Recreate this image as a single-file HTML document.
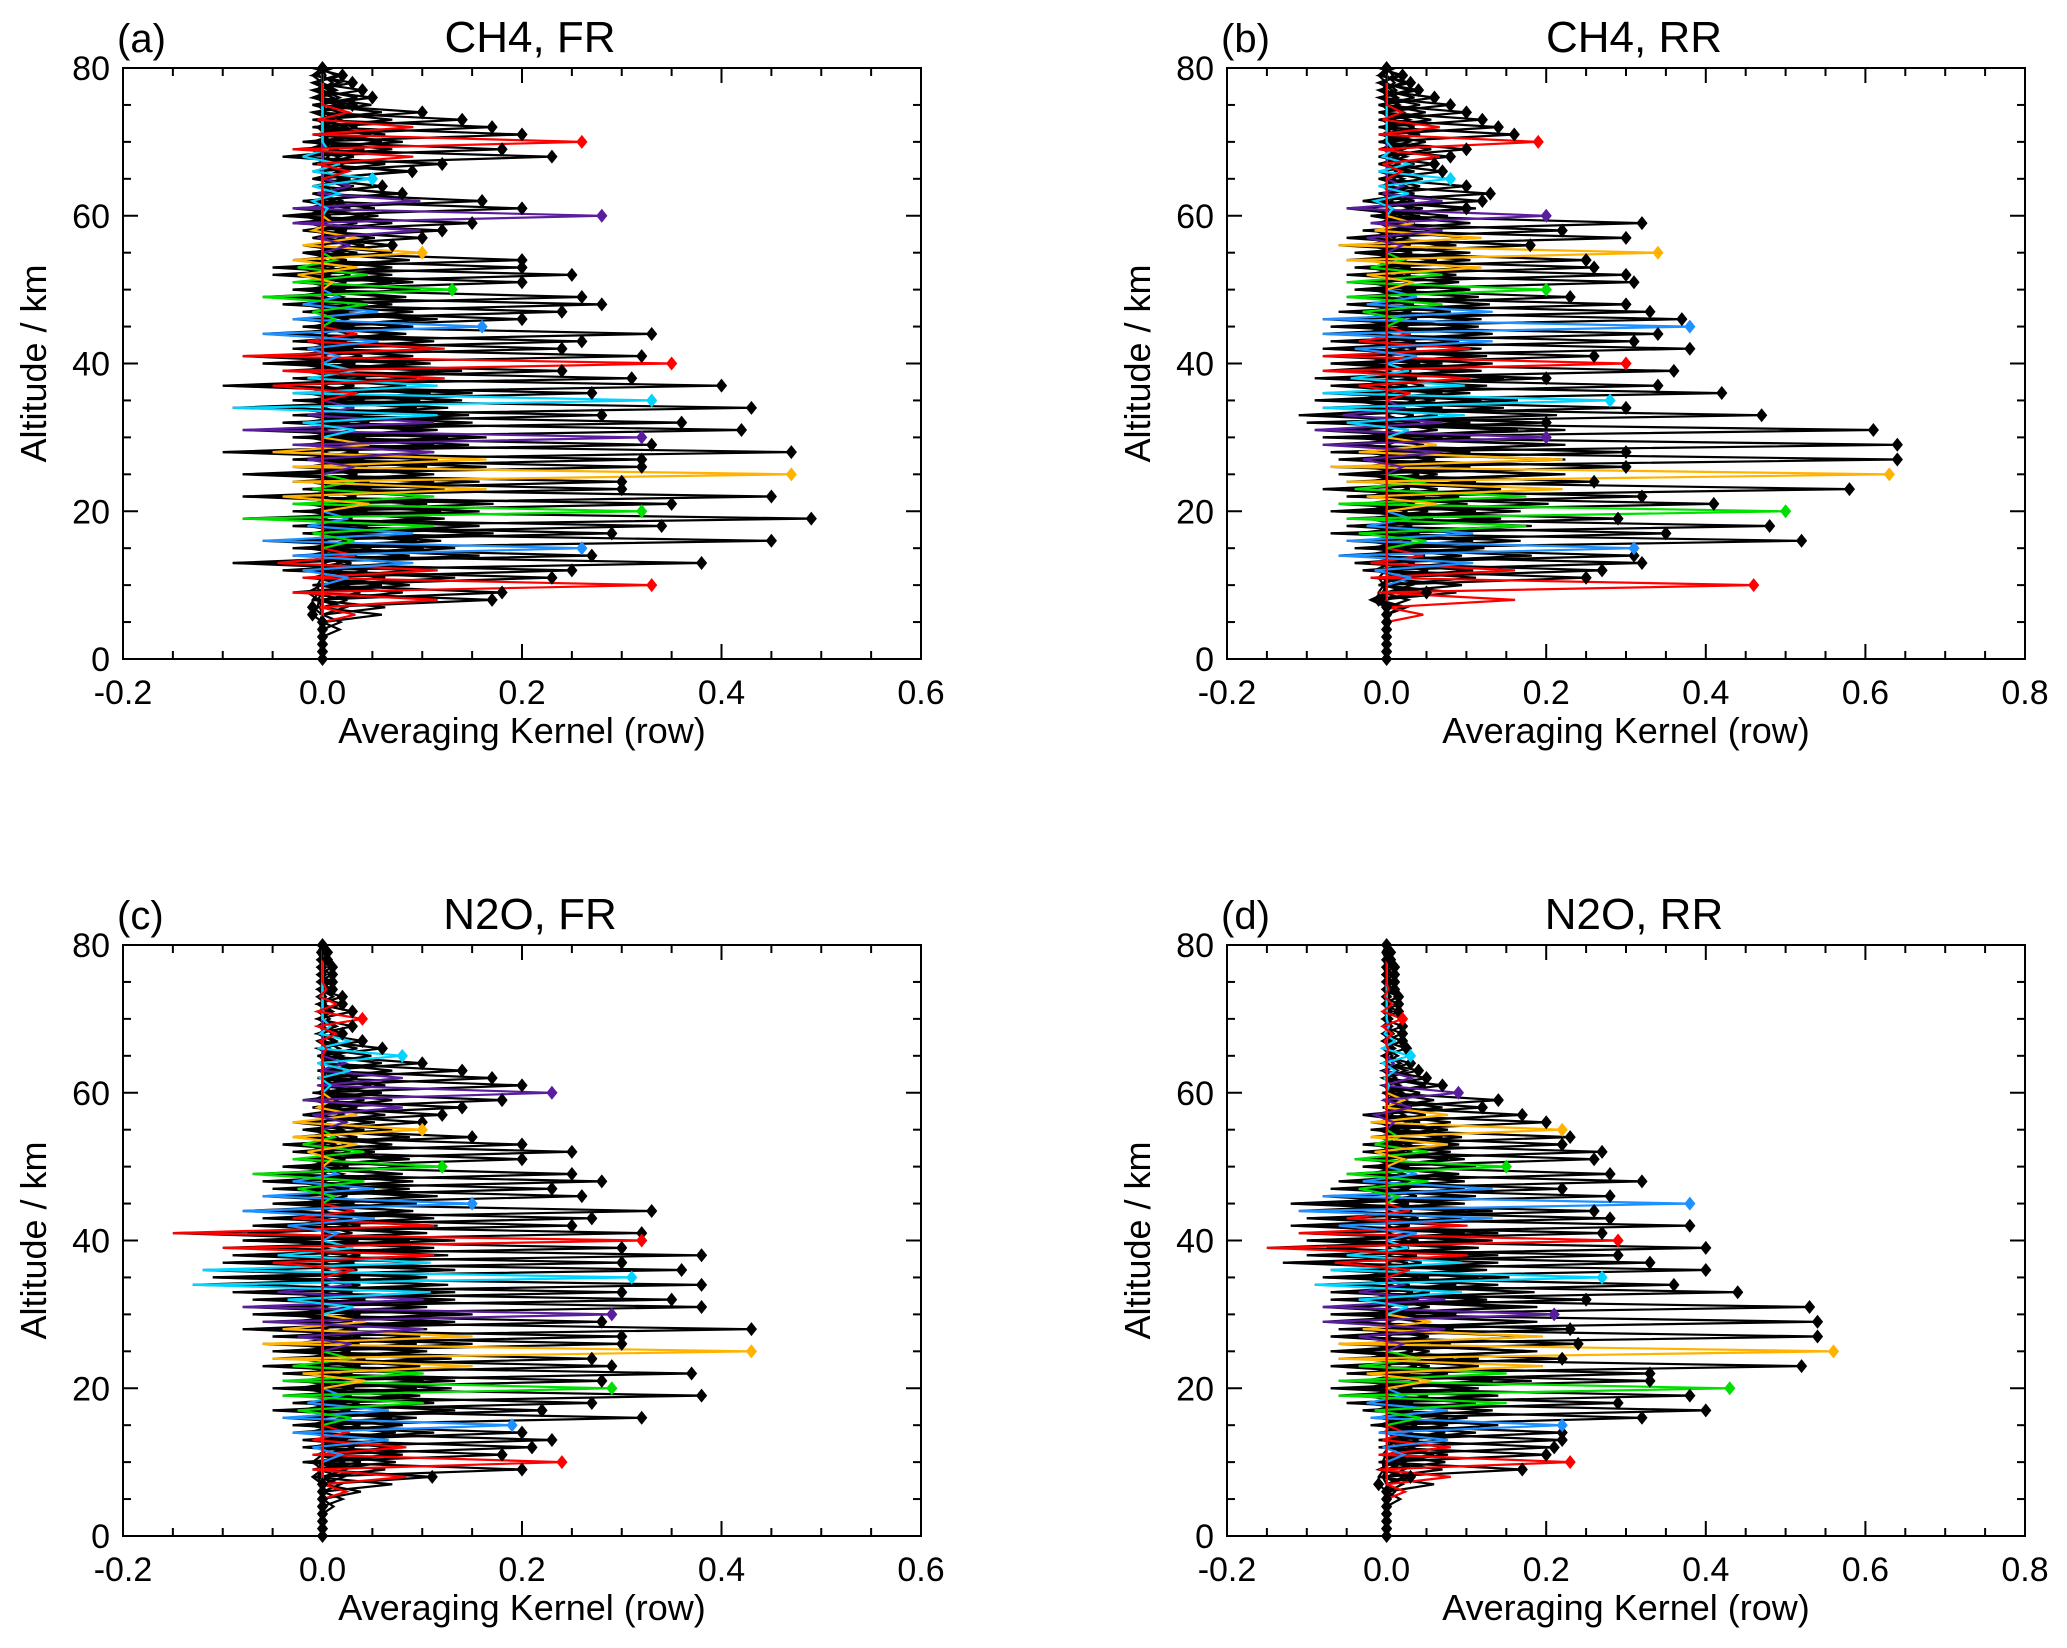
<!DOCTYPE html>
<html><head><meta charset="utf-8">
<style>
html,body{margin:0;padding:0;background:#fff;}
svg{display:block;font-family:"Liberation Sans",Arial,sans-serif;}
</style></head>
<body>
<svg id="fig" width="2067" height="1648" viewBox="0 0 2067 1648" xmlns="http://www.w3.org/2000/svg">
<rect width="2067" height="1648" fill="#fff"/>
</svg>
<script>
// Altitude levels 0..80 km
const altitudes = Array.from({length:81},(_,i)=>i);
// Peak (diagonal) values per row, panel a..d
const peaksA = [0,0,0,0,0,0,-0.01,-0.01,0.17,0.18,0.33,0.23,0.25,0.38,0.27,0.26,0.45,0.29,0.34,0.49,0.32,0.35,0.45,0.3,0.3,0.47,0.32,0.32,0.47,0.33,0.32,0.42,0.36,0.28,0.43,0.33,0.27,0.40,0.31,0.24,0.35,0.32,0.24,0.26,0.33,0.16,0.2,0.24,0.28,0.26,0.13,0.2,0.25,0.2,0.2,0.1,0.07,0.1,0.12,0.15,0.28,0.2,0.16,0.08,0.06,0.05,0.09,0.12,0.23,0.18,0.26,0.2,0.17,0.14,0.1,0.03,0.05,0.04,0.03,0.02,0];
const negA = [0,0,0,0,0,0,0,-0.005,-0.01,-0.03,-0.01,-0.02,-0.04,-0.09,-0.03,-0.03,-0.06,-0.02,-0.03,-0.08,-0.03,-0.03,-0.08,-0.02,-0.03,-0.08,-0.03,-0.03,-0.1,-0.03,-0.03,-0.08,-0.04,-0.03,-0.09,-0.03,-0.03,-0.1,-0.03,-0.04,-0.06,-0.08,-0.03,-0.03,-0.06,-0.02,-0.03,-0.02,-0.04,-0.06,-0.03,-0.03,-0.05,-0.05,-0.03,-0.02,-0.02,-0.01,-0.02,-0.03,-0.04,-0.03,-0.02,-0.01,-0.01,-0.01,-0.01,-0.01,-0.04,-0.03,-0.02,-0.01,-0.01,-0.01,-0.01,-0.01,-0.01,-0.01,-0.01,-0.01,-0.01];
const peaksB = [0,0,0,0,0,0,0,0,-0.01,0.05,0.46,0.25,0.27,0.32,0.31,0.31,0.52,0.35,0.48,0.29,0.5,0.41,0.32,0.58,0.26,0.63,0.3,0.64,0.3,0.64,0.2,0.61,0.2,0.47,0.3,0.28,0.42,0.34,0.2,0.36,0.3,0.26,0.38,0.31,0.34,0.38,0.37,0.33,0.3,0.23,0.2,0.31,0.3,0.26,0.25,0.34,0.18,0.3,0.22,0.32,0.2,0.1,0.12,0.13,0.1,0.08,0.07,0.06,0.08,0.1,0.19,0.16,0.14,0.12,0.1,0.08,0.06,0.04,0.03,0.02,0];
const negB = [0,0,0,0,0,0,0,0,-0.02,-0.01,-0.01,-0.02,-0.03,-0.04,-0.06,-0.04,-0.05,-0.07,-0.05,-0.05,-0.07,-0.06,-0.05,-0.08,-0.05,-0.06,-0.07,-0.06,-0.07,-0.08,-0.08,-0.09,-0.1,-0.11,-0.08,-0.09,-0.08,-0.07,-0.09,-0.08,-0.07,-0.08,-0.08,-0.07,-0.08,-0.07,-0.08,-0.06,-0.05,-0.05,-0.04,-0.05,-0.05,-0.04,-0.05,-0.04,-0.06,-0.05,-0.03,-0.02,-0.02,-0.05,-0.03,-0.01,-0.01,-0.01,-0.01,-0.01,-0.01,-0.01,-0.01,-0.01,-0.01,-0.01,-0.01,-0.01,-0.01,-0.01,-0.01,-0.01,-0.01];
const peaksC = [0,0,0,0,0,0,0,0,0.11,0.2,0.24,0.18,0.21,0.23,0.2,0.19,0.32,0.22,0.27,0.38,0.29,0.28,0.37,0.29,0.27,0.43,0.3,0.3,0.43,0.28,0.29,0.38,0.35,0.3,0.38,0.31,0.36,0.3,0.38,0.3,0.32,0.32,0.25,0.27,0.33,0.15,0.26,0.23,0.28,0.25,0.12,0.2,0.25,0.2,0.15,0.1,0.1,0.12,0.14,0.18,0.23,0.2,0.17,0.14,0.1,0.08,0.06,0.04,0.02,0.03,0.04,0.03,0.02,0.02,0.01,0.01,0.01,0.01,0.005,0.005,0];
const negC = [0,0,0,0,0,0,0,0,-0.01,-0.01,-0.02,-0.01,-0.02,-0.02,-0.03,-0.03,-0.04,-0.05,-0.03,-0.04,-0.05,-0.04,-0.04,-0.06,-0.05,-0.05,-0.06,-0.05,-0.08,-0.06,-0.07,-0.08,-0.07,-0.09,-0.13,-0.11,-0.12,-0.1,-0.09,-0.1,-0.08,-0.15,-0.07,-0.06,-0.08,-0.05,-0.06,-0.05,-0.06,-0.07,-0.04,-0.03,-0.03,-0.04,-0.03,-0.02,-0.03,-0.02,-0.01,-0.02,-0.01,-0.005,-0.005,-0.005,-0.005,-0.005,-0.005,-0.005,-0.005,-0.005,-0.005,-0.005,-0.005,-0.005,-0.005,-0.005,-0.005,-0.005,-0.005,-0.005,-0.005];
const peaksD = [0,0,0,0,0,0,0,-0.01,0.03,0.17,0.23,0.2,0.21,0.22,0.22,0.22,0.32,0.4,0.29,0.38,0.43,0.33,0.33,0.52,0.22,0.56,0.24,0.54,0.23,0.54,0.21,0.53,0.25,0.44,0.36,0.27,0.4,0.33,0.29,0.4,0.29,0.27,0.38,0.28,0.26,0.38,0.28,0.22,0.32,0.28,0.15,0.26,0.27,0.22,0.23,0.22,0.2,0.17,0.12,0.14,0.09,0.07,0.05,0.04,0.03,0.03,0.025,0.02,0.02,0.02,0.02,0.015,0.015,0.015,0.01,0.01,0.01,0.01,0.005,0.005,0];
const negD = [0,0,0,0,0,0,0,0,-0.01,-0.01,-0.01,-0.01,-0.01,-0.01,-0.01,-0.02,-0.02,-0.03,-0.05,-0.06,-0.07,-0.06,-0.05,-0.07,-0.06,-0.07,-0.06,-0.07,-0.06,-0.08,-0.07,-0.08,-0.07,-0.07,-0.09,-0.08,-0.07,-0.13,-0.1,-0.15,-0.1,-0.11,-0.12,-0.1,-0.11,-0.12,-0.08,-0.07,-0.06,-0.05,-0.03,-0.04,-0.03,-0.03,-0.02,-0.02,-0.02,-0.03,-0.005,-0.005,-0.005,-0.005,-0.005,-0.005,-0.005,-0.005,-0.005,-0.005,-0.005,-0.005,-0.005,-0.005,-0.005,-0.005,-0.005,-0.005,-0.005,-0.005,-0.005,-0.005,-0.005];
const yTicks = [0,20,40,60,80];
const xTicksFR = ["-0.2","0.0","0.2","0.4","0.6"];
const xTicksRR = ["-0.2","0.0","0.2","0.4","0.6","0.8"];
const rowColors = {10:"#ff0000",15:"#1e90ff",20:"#00e000",25:"#ffb300",30:"#5a1d9e",35:"#00d4ff",40:"#ff0000",45:"#1e90ff",50:"#00e000",55:"#ffb300",60:"#5a1d9e",65:"#00d4ff",70:"#ff0000"};

const NS="http://www.w3.org/2000/svg";
const svg=document.getElementById('fig');
function mk(tag,attrs,parent){const e=document.createElementNS(NS,tag);for(const k in attrs)e.setAttribute(k,attrs[k]);(parent||svg).appendChild(e);return e;}

const panels=[
 {id:'a',label:'(a)',title:'CH4, FR',L:123,T:68,W:798,H:591,xmin:-0.2,xmax:0.6,ticks:xTicksFR,peaks:peaksA,neg:negA},
 {id:'b',label:'(b)',title:'CH4, RR',L:1227,T:68,W:798,H:591,xmin:-0.2,xmax:0.8,ticks:xTicksRR,peaks:peaksB,neg:negB},
 {id:'c',label:'(c)',title:'N2O, FR',L:123,T:945,W:798,H:591,xmin:-0.2,xmax:0.6,ticks:xTicksFR,peaks:peaksC,neg:negC},
 {id:'d',label:'(d)',title:'N2O, RR',L:1227,T:945,W:798,H:591,xmin:-0.2,xmax:0.8,ticks:xTicksRR,peaks:peaksD,neg:negD}
];

function kernel(p,i,j){
  const d=Math.abs(j-i);
  if(d===0) return p.peaks[i];
  if(d===1) return p.neg[j];
  if(d===2) return 0.35*p.peaks[i];
  if(d===3) return 0.5*p.neg[j];
  if(d===4) return 0.1*p.peaks[i];
  return 0;
}

panels.forEach(p=>{
  const g=mk('g',{});
  
  
  const xs=v=>p.L+(v-p.xmin)/(p.xmax-p.xmin)*p.W;
  const ys=a=>p.T+p.H-(a/80)*p.H;
  const cp=mk('clipPath',{id:'clip'+p.id},g);
  mk('rect',{x:p.L,y:p.T-8,width:p.W,height:p.H+16},cp);
  const lines=mk('g',{'clip-path':'url(#clip'+p.id+')'},g);
  
  
  const order=[];
  altitudes.forEach(i=>{ if(!rowColors[i]) order.push(i); });
  altitudes.forEach(i=>{ if(rowColors[i]) order.push(i); });
  order.forEach(i=>{
    const col=rowColors[i]||'#000';
    const pts=altitudes.map(j=>xs(kernel(p,i,j)).toFixed(1)+','+ys(j).toFixed(1)).join(' ');
    const pl=mk('polyline',{points:pts,fill:'none',stroke:col,'stroke-width':2.2,'stroke-linejoin':'miter'},lines);
    
    
  });
  order.forEach(i=>{
    const col=rowColors[i]||'#000';
    const cx=xs(p.peaks[i]),cy=ys(i),r=7;
    const dm=mk('polygon',{points:`${cx},${cy-r} ${cx+r*0.8},${cy} ${cx},${cy+r} ${cx-r*0.8},${cy}`,fill:col},g);
    
    
  });
  const fr=mk('rect',{x:p.L,y:p.T,width:p.W,height:p.H,fill:'none',stroke:'#000','stroke-width':2},g);
  
  
  for(let a=0;a<=80;a+=5){
    const major=a%20===0, len=major?15:8, y=ys(a);
    mk('line',{x1:p.L,y1:y,x2:p.L+len,y2:y,stroke:'#000','stroke-width':2},g);
    mk('line',{x1:p.L+p.W,y1:y,x2:p.L+p.W-len,y2:y,stroke:'#000','stroke-width':2},g);
  }
  yTicks.forEach(a=>{
    const t=mk('text',{x:p.L-13,y:ys(a)+12,'font-size':34,'text-anchor':'end'},g);
    t.textContent=String(a);
    
    
  });
  const nMinor=Math.round((p.xmax-p.xmin)/0.05);
  for(let k=0;k<=nMinor;k++){
    const v=p.xmin+k*0.05, major=k%4===0, len=major?15:8, x=xs(v);
    mk('line',{x1:x,y1:p.T+p.H,x2:x,y2:p.T+p.H-len,stroke:'#000','stroke-width':2},g);
    mk('line',{x1:x,y1:p.T,x2:x,y2:p.T+len,stroke:'#000','stroke-width':2},g);
  }
  p.ticks.forEach(s=>{
    const t=mk('text',{x:xs(parseFloat(s)),y:p.T+p.H+45,'font-size':34,'text-anchor':'middle'},g);
    t.textContent=s;
    
    
  });
  const xt=mk('text',{x:p.L+p.W/2,y:p.T+p.H+84,'font-size':36,'text-anchor':'middle'},g);
  xt.textContent='Averaging Kernel (row)';
  
  
  const yt=mk('text',{x:0,y:0,'font-size':36,'text-anchor':'middle',transform:`translate(${p.L-77},${p.T+p.H/2}) rotate(-90)`},g);
  yt.textContent='Altitude / km';
  
  
  const lb=mk('text',{x:p.L-6,y:p.T-16,'font-size':40},g);
  lb.textContent=p.label;
  
  
  const tt=mk('text',{x:p.L+p.W/2+8,y:p.T-16,'font-size':44,'text-anchor':'middle'},g);
  tt.textContent=p.title;
  
  
});
</script>
</body></html>
